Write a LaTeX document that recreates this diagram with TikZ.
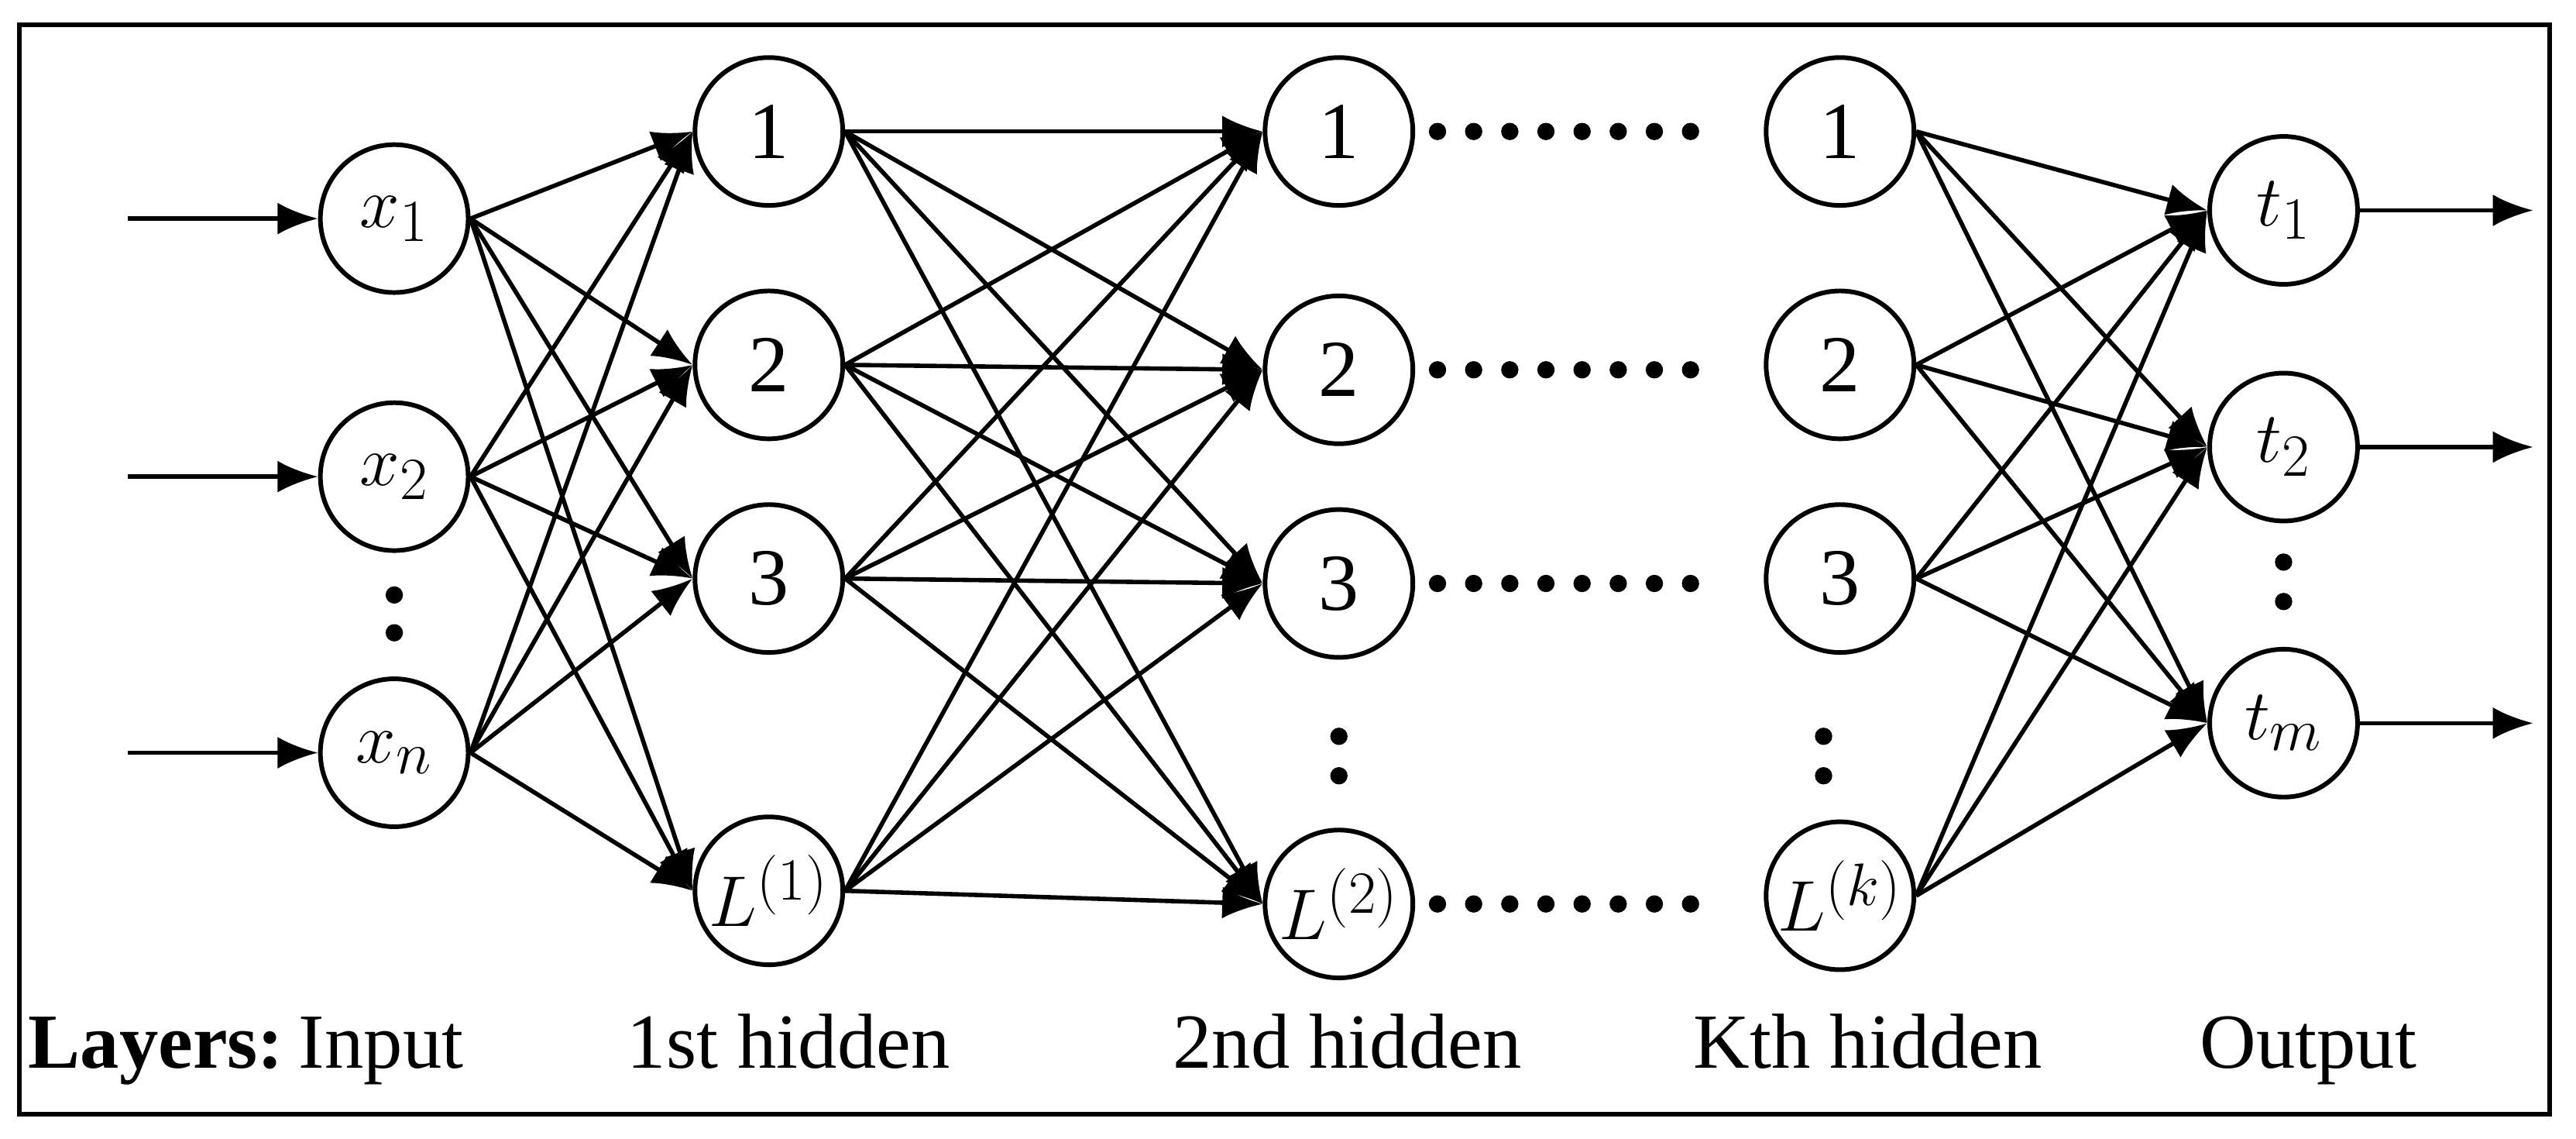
\documentclass[tikz,border=0pt]{standalone}
\usepackage{fontspec}
\setmainfont{Liberation Serif}
\usetikzlibrary{arrows.meta}
\begin{document}
\begin{tikzpicture}[x=0.02cm,y=-0.02cm,
 nd/.style={circle,draw,line width=1.6pt,minimum size=1.8cm,inner sep=0pt,font=\fontsize{28}{30}\selectfont},
 ar/.style={line width=1.5pt,-{Latex[length=14pt,width=11pt]}},
 lab/.style={font=\fontsize{27}{32}\selectfont,anchor=base},
 dt/.style={circle,fill,inner sep=0pt,minimum size=6pt}]
\useasboundingbox (0,0) rectangle (1568,693);
\draw[line width=1.6pt] (12,15) rectangle (1552,678);
% input
\node[nd] (i1) at (240,133) {$x_1$};
\node[nd] (i2) at (240,290) {$x_2$};
\node[nd] (i3) at (240,458) {$x_n$};
\node[dt] (di1) at (240,362) {}; \node[dt] (di2) at (240,385) {};
% hidden 1
\node[nd] (a1) at (468,80) {1};
\node[nd] (a2) at (468,222) {2};
\node[nd] (a3) at (468,352) {3};
\node[nd] (a4) at (468,542) {$L^{(1)}$};
% hidden 2
\node[nd] (b1) at (815,80) {1};
\node[nd] (b2) at (815,225) {2};
\node[nd] (b3) at (815,355) {3};
\node[nd] (b4) at (815,550) {$L^{(2)}$};
\node[dt] at (815,448) {}; \node[dt] at (815,472) {};
% hidden k
\node[nd] (c1) at (1120,80) {1};
\node[nd] (c2) at (1120,222) {2};
\node[nd] (c3) at (1120,352) {3};
\node[nd] (c4) at (1120,545) {$L^{(k)}$};
\node[dt] at (1110,448) {}; \node[dt] at (1110,472) {};
% output
\node[nd] (o1) at (1390,128) {$t_1$};
\node[nd] (o2) at (1390,272) {$t_2$};
\node[nd] (o3) at (1390,440) {$t_m$};
\node[dt] at (1390,342) {}; \node[dt] at (1390,366) {};
% dotted rows
\foreach \r/\y in {1/80,2/225,3/355,4/550}{
  \foreach \k in {0,...,7}{\node[dt] at ({875+\k*22},\y) {};}}
% inputs / outputs
\foreach \n/\y in {i1/133,i2/290,i3/458}{\coordinate (s\n) at (78,\y); \draw[ar] (s\n) -- (\n);}
\foreach \n/\y in {o1/128,o2/272,o3/440}{\coordinate (e\n) at (1542,\y); \draw[ar] (\n) -- (e\n);}
\foreach \s in {i1,i2,i3}{\foreach \t in {a1,a2,a3,a4}{\draw[ar] (\s.east) -- (\t.west);}}
\foreach \s in {a1,a2,a3,a4}{\foreach \t in {b1,b2,b3,b4}{\draw[ar] (\s.east) -- (\t.west);}}
\foreach \s in {c1,c2,c3,c4}{\foreach \t in {o1,o2,o3}{\draw[ar] (\s.east) -- (\t.west);}}
% labels
\node[lab,font=\bfseries\fontsize{27}{32}\selectfont] (l0) at (95,650) {Layers:};
\node[lab] (l1) at (232,650) {Input};
\node[lab] (l2) at (480,650) {1st hidden};
\node[lab] (l3) at (820,650) {2nd hidden};
\node[lab] (l4) at (1137,650) {Kth hidden};
\node[lab] (l5) at (1405,650) {Output};
\end{tikzpicture}
\end{document}
